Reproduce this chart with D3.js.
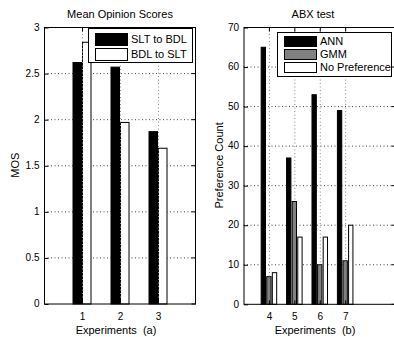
<!DOCTYPE html>
<html>
<head>
<meta charset="utf-8">
<script src="https://cdn.jsdelivr.net/npm/d3@7"></script>
<style>
  body { margin: 0; background: #fff; }
  svg { display: block; font-family: "Liberation Sans", Arial, sans-serif; }
  .grid line { stroke: #444; stroke-dasharray: 1,2.5; }
  .vgrid line { stroke: #888; stroke-dasharray: 1,2.5; }
  .axis path { display: none; }
  .axis line { stroke: #000; }
  .axis text { font-size: 10px; fill: #000; }
</style>
</head>
<body>
<svg id="chart" width="394" height="337"></svg>
<script>
// panel (a): mean opinion scores
const expA = [1, 2, 3];
const sltToBdl = [2.62, 2.57, 1.87];
const bdlToSlt = [2.84, 1.97, 1.69];
const mosTicks = [0, 0.5, 1, 1.5, 2, 2.5, 3];

// panel (b): ABX preference counts
const expB = [4, 5, 6, 7];
const ann = [65, 37, 53, 49];
const gmm = [7, 26, 10, 11];
const noPref = [8, 17, 17, 20];
const countTicks = [0, 10, 20, 30, 40, 50, 60, 70];

const svg = d3.select("#chart");

function drawPanel(opt) {
    const x = d3.scaleLinear().domain(opt.xDomain).range([opt.left, opt.right]);
    const y = d3.scaleLinear().domain(opt.yDomain).range([opt.bottom, opt.top]);
    const g = svg.append("g");

    // horizontal grid under the bars
    g.append("g").attr("class", "grid")
        .selectAll("line").data(opt.yTicks.slice(1, -1)).enter().append("line")
        .attr("x1", opt.left).attr("x2", opt.right)
        .attr("y1", d => y(d) + 0.5).attr("y2", d => y(d) + 0.5);

    // bars
    const n = opt.series.length;
    opt.series.forEach((s, i) => {
        const off = (i - (n - 1) / 2) * opt.step;
        g.append("g").selectAll("rect").data(s.values).enter().append("rect")
            .attr("x", (d, j) => x(opt.xs[j] + off - opt.barW / 2) + 0.5)
            .attr("y", d => y(d) + 0.5)
            .attr("width", x(opt.barW) - x(0) - 1)
            .attr("height", d => y(0) - y(d))
            .attr("fill", s.color)
            .attr("stroke", "#000")
            .attr("stroke-width", 1);
    });

    // vertical grid drawn over the bars
    g.append("g").attr("class", "vgrid")
        .selectAll("line").data(opt.xs).enter().append("line")
        .attr("x1", d => x(d) + 0.5).attr("x2", d => x(d) + 0.5)
        .attr("y1", opt.top).attr("y2", opt.bottom);

    // axes (ticks inside, matlab style)
    g.append("g").attr("class", "axis")
        .attr("transform", `translate(${opt.left + 0.5},0)`)
        .call(d3.axisLeft(y).tickValues(opt.yTicks).tickSize(-4).tickPadding(5)
            .tickFormat(d3.format("")))
        .selectAll("line").attr("transform", "translate(0,0.5)");
    g.append("g").attr("class", "axis")
        .attr("transform", `translate(0,${opt.bottom + 0.5})`)
        .call(d3.axisBottom(x).tickValues(opt.xs).tickSize(-4).tickPadding(8.5)
            .tickFormat(d3.format("d")));
    g.append("g").attr("class", "axis")
        .attr("transform", `translate(0,${opt.top + 0.5})`)
        .call(d3.axisTop(x).tickValues(opt.xs).tickSize(-4).tickFormat(""));
    g.append("g").attr("class", "axis")
        .attr("transform", `translate(${opt.right - 0.5},0)`)
        .call(d3.axisRight(y).tickValues(opt.yTicks).tickSize(-4).tickFormat(""));

    g.append("rect")
        .attr("x", opt.left + 0.5).attr("y", opt.top + 0.5)
        .attr("width", opt.right - opt.left - 1).attr("height", opt.bottom - opt.top)
        .attr("fill", "none").attr("stroke", "#000");

    // labels
    g.append("text").attr("x", opt.titleX).attr("y", 18)
        .attr("text-anchor", "middle").style("font-size", "11px").text(opt.title);
    g.append("text").attr("x", opt.xLabelX).attr("y", 334)
        .attr("text-anchor", "middle").style("font-size", "11px")
        .style("white-space", "pre").text(opt.xLabel);
    g.append("text")
        .attr("transform", `translate(${opt.yLabelX},${(opt.top + opt.bottom) / 2}) rotate(-90)`)
        .attr("text-anchor", "middle").style("font-size", "11px").text(opt.yLabel);

    // legend
    const lg = opt.legend;
    g.append("rect")
        .attr("x", lg.x + 0.5).attr("y", lg.y + 0.5)
        .attr("width", lg.w).attr("height", lg.h)
        .attr("fill", "#fff").attr("stroke", "#000");
    opt.series.forEach((s, i) => {
        const cy = lg.y + lg.first + i * lg.gap;
        g.append("rect")
            .attr("x", lg.x + 7.5).attr("y", cy - lg.sh / 2 + 0.5)
            .attr("width", 32).attr("height", lg.sh)
            .attr("fill", s.color).attr("stroke", "#000");
        g.append("text")
            .attr("x", lg.x + 43).attr("y", cy + 4)
            .style("font-size", "11px").text(s.name);
    });
}

drawPanel({
    xs: expA, xDomain: [0, 4], yDomain: [0, 3], yTicks: mosTicks,
    left: 44, right: 196, top: 27, bottom: 303.5,
    step: 0.25, barW: 0.25,
    series: [
        {name: "SLT to BDL", values: sltToBdl, color: "#000"},
        {name: "BDL to SLT", values: bdlToSlt, color: "#fff"}
    ],
    title: "Mean Opinion Scores", titleX: 120,
    xLabel: "Experiments  (a)", xLabelX: 116,
    yLabel: "MOS", yLabelX: 18.5,
    legend: {x: 88, y: 28, w: 104, h: 34, first: 11, gap: 15, sh: 12}
});

drawPanel({
    xs: expB, xDomain: [3, 9], yDomain: [0, 70], yTicks: countTicks,
    left: 243.5, right: 396, top: 27, bottom: 303.8,
    step: 0.22, barW: 0.21,
    series: [
        {name: "ANN", values: ann, color: "#000"},
        {name: "GMM", values: gmm, color: "#808080"},
        {name: "No Preference", values: noPref, color: "#fff"}
    ],
    title: "ABX test", titleX: 313,
    xLabel: "Experiments  (b)", xLabelX: 315,
    yLabel: "Preference Count", yLabelX: 222.5,
    legend: {x: 277, y: 32, w: 114, h: 44, first: 9, gap: 13, sh: 10}
});
</script>
</body>
</html>
